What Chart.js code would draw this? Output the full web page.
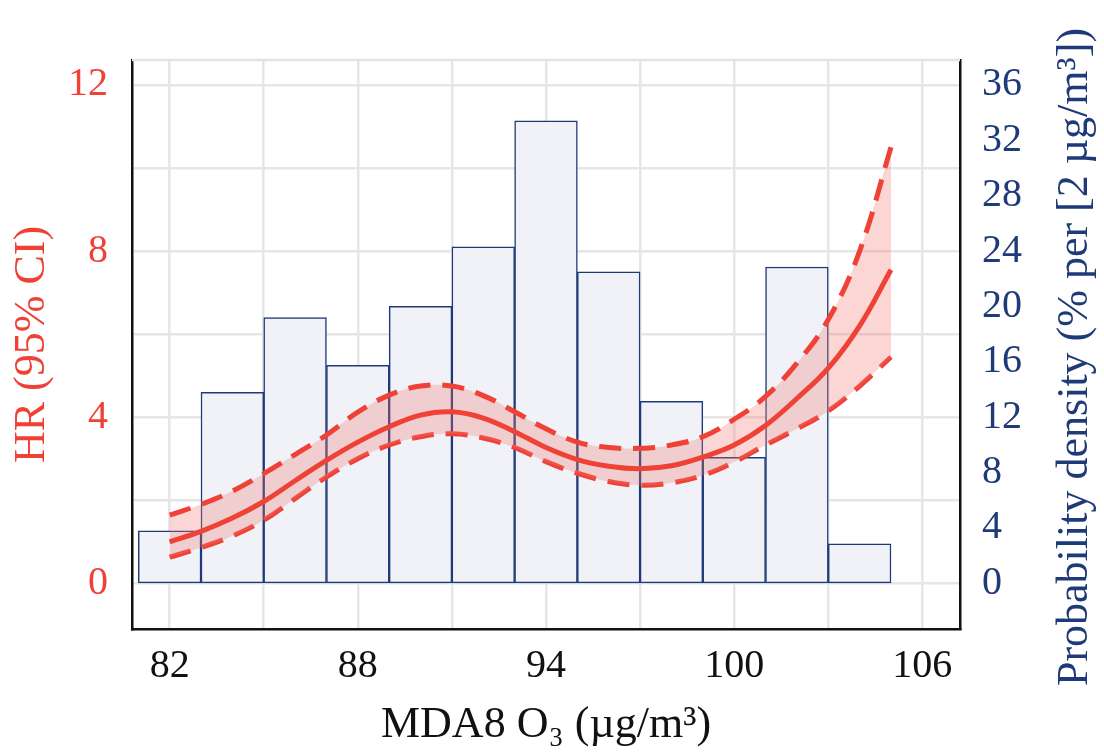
<!DOCTYPE html>
<html>
<head>
<meta charset="utf-8">
<title>HR and MDA8 O3</title>
<script src="https://cdn.jsdelivr.net/npm/chart.js@4.4.1/dist/chart.umd.min.js"></script>
<style>
  html, body { margin: 0; padding: 0; background: #fff; }
  #wrap { width: 1104px; height: 754px; }
</style>
</head>
<body>
<div id="wrap"><canvas id="hrChart" width="1104" height="754"></canvas></div>
<script>
// === DATA ===
// exposure points for the spline (µg/m3)
const hrX = [82, 83, 84, 85, 86, 87, 88, 89, 90, 91, 92, 93, 94, 95, 96, 97, 98, 99, 100, 101, 102, 103, 104, 105];
const hrMid = [1.0, 1.25, 1.57, 1.97, 2.47, 2.96, 3.4, 3.77, 4.05, 4.13, 3.98, 3.65, 3.27, 2.98, 2.82, 2.76, 2.83, 3.04, 3.33, 3.8, 4.45, 5.18, 6.2, 7.55];
const hrUpper = [1.64, 1.9, 2.22, 2.64, 3.1, 3.57, 4.12, 4.53, 4.75, 4.75, 4.52, 4.13, 3.72, 3.4, 3.27, 3.25, 3.33, 3.53, 3.95, 4.5, 5.3, 6.35, 8.0, 10.5];
const hrLower = [0.63, 0.86, 1.14, 1.52, 2.04, 2.56, 3.0, 3.33, 3.53, 3.6, 3.5, 3.27, 2.93, 2.65, 2.45, 2.36, 2.42, 2.6, 2.92, 3.33, 3.72, 4.15, 4.75, 5.45];

// histogram bins (centre of each 2 µg/m3 bin) and density in %
const binCenters = [82, 84, 86, 88, 90, 92, 94, 96, 98, 100, 102, 104];
const binDensity = [3.8, 13.8, 19.2, 15.75, 20.0, 24.3, 33.4, 22.5, 13.15, 9.1, 22.85, 2.85];

// tick / grid positions
const xTicks = [82, 85, 88, 91, 94, 97, 100, 103, 106];
const hrTicks = [0, 2, 4, 6, 8, 10, 12];
const densityTicks = [0, 4, 8, 12, 16, 20, 24, 28, 32, 36];

const RED = "#ef4136";
const NAVY = "#1f3a78";
const SERIF = "'Liberation Serif', 'Times New Roman', serif";

const toPoints = ys => hrX.map((x, i) => ({ x: x, y: ys[i] }));

// right-hand title reads bottom to top, so draw it ourselves
const rightTitle = {
  id: "rightTitle",
  afterDraw(chart) {
    const ctx = chart.ctx;
    const area = chart.chartArea;
    ctx.save();
    // light top frame line
    ctx.strokeStyle = "#e3e3e3";
    ctx.lineWidth = 2.5;
    ctx.beginPath();
    ctx.moveTo(area.left, area.top);
    ctx.lineTo(area.right, area.top);
    ctx.stroke();

    ctx.translate(1075, 357);
    ctx.rotate(-Math.PI / 2);
    ctx.fillStyle = NAVY;
    ctx.font = "44px " + SERIF;
    ctx.textAlign = "center";
    ctx.textBaseline = "middle";
    ctx.fillText("Probability density (% per [2 µg/m³])", 0, 0);
    ctx.restore();
  }
};

new Chart(document.getElementById("hrChart"), {
  data: {
    datasets: [
      {
        type: "line",
        label: "HR",
        data: toPoints(hrMid),
        yAxisID: "y",
        borderColor: RED,
        borderWidth: 5,
        pointRadius: 0,
        tension: 0.4,
        fill: false,
        order: 1
      },
      {
        type: "line",
        label: "Upper 95% CI",
        data: toPoints(hrUpper),
        yAxisID: "y",
        borderColor: RED,
        borderWidth: 5,
        borderDash: [22, 12],
        pointRadius: 0,
        tension: 0.4,
        fill: "+1",
        backgroundColor: "rgba(242, 120, 116, 0.3)",
        order: 2
      },
      {
        type: "line",
        label: "Lower 95% CI",
        data: toPoints(hrLower),
        yAxisID: "y",
        borderColor: RED,
        borderWidth: 5,
        borderDash: [22, 12],
        pointRadius: 0,
        tension: 0.4,
        fill: false,
        order: 2
      },
      {
        type: "bar",
        label: "Density",
        data: binCenters.map((x, i) => ({ x: x, y: binDensity[i] })),
        yAxisID: "y2",
        backgroundColor: "#f0f2f7",
        borderColor: NAVY,
        borderWidth: 1.5,
        borderSkipped: false,
        barPercentage: 1,
        categoryPercentage: 1,
        order: 3
      }
    ]
  },
  options: {
    responsive: false,
    animation: false,
    layout: { padding: { top: 60, left: 0, right: 0, bottom: 0 } },
    plugins: {
      legend: { display: false },
      tooltip: { enabled: false }
    },
    scales: {
      x: {
        type: "linear",
        position: "bottom",
        offset: false,
        min: 80.8,
        max: 107.2,
        afterBuildTicks: scale => { scale.ticks = xTicks.map(v => ({ value: v })); },
        afterFit: scale => { scale.height = 125; },
        grid: { offset: false, color: "#e6e6e6", lineWidth: 2.5, drawTicks: false },
        border: { display: true, color: "#111", width: 2.5 },
        ticks: {
          autoSkip: false,
          maxRotation: 0,
          padding: 13,
          color: "#111",
          font: { family: SERIF, size: 40 },
          callback: v => ((v - 82) % 6 === 0 ? v : "")
        },
        title: {
          display: true,
          text: "MDA8 O₃ (µg/m³)",
          color: "#111",
          font: { family: SERIF, size: 44 },
          padding: { top: 0, bottom: 2 }
        }
      },
      y: {
        type: "linear",
        position: "left",
        min: -1.1,
        max: 12.6,
        afterBuildTicks: scale => { scale.ticks = hrTicks.map(v => ({ value: v })); },
        afterFit: scale => { scale.width = 132; },
        grid: { color: "#e6e6e6", lineWidth: 2.5, drawTicks: false },
        border: { display: true, color: "#111", width: 2.5 },
        ticks: {
          autoSkip: false,
          padding: 24,
          color: RED,
          font: { family: SERIF, size: 40 },
          callback: v => (v % 4 === 0 ? v : "")
        },
        title: {
          display: true,
          text: "HR (95% CI)",
          color: RED,
          font: { family: SERIF, size: 44 },
          padding: { top: 6, bottom: 0 }
        }
      },
      y2: {
        type: "linear",
        position: "right",
        min: -3.3,
        max: 37.8,
        afterBuildTicks: scale => { scale.ticks = densityTicks.map(v => ({ value: v })); },
        afterFit: scale => { scale.width = 144; },
        grid: { drawOnChartArea: false, drawTicks: false },
        border: { display: true, color: "#111", width: 2.5 },
        ticks: {
          autoSkip: false,
          padding: 22,
          color: NAVY,
          font: { family: SERIF, size: 40 }
        }
      }
    }
  },
  plugins: [rightTitle]
});
</script>
</body>
</html>
